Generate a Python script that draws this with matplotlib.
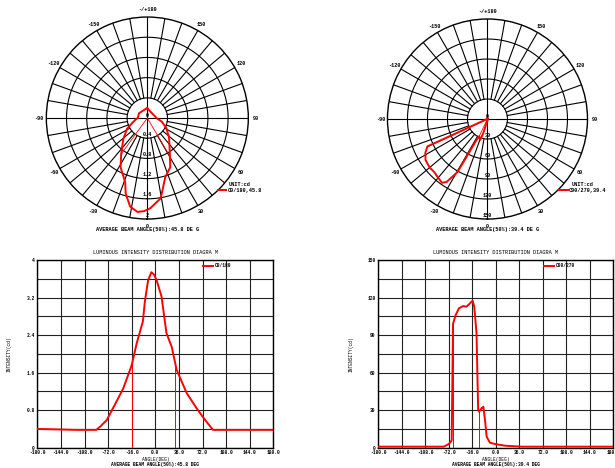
import numpy as np
import matplotlib
matplotlib.use("Agg")
import matplotlib.pyplot as plt

plt.rcParams["font.family"] = ["Liberation Mono", "DejaVu Sans Mono"]
plt.rcParams["font.weight"] = "bold"

# C0/180 plane
C0_ANGLE = [-180, -120, -90, -84, -74, -62, -49, -36, -28.5, -19, -16, -11, -6, -2,
            2, 9.5, 17, 25, 32.5, 48, 63, 76, 88, 180]
C0_INT = [0.40, 0.38, 0.38, 0.45, 0.59, 0.91, 1.26, 1.76, 2.22, 2.69, 3.11, 3.57, 3.74, 3.69,
          3.57, 3.22, 2.44, 2.15, 1.66, 1.16, 0.84, 0.59, 0.38, 0.38]
C0_EDGES = [-36.0, 30.5]

# C90/270 plane
C90_ANGLE = [-180, -80, -72, -69, -67.5, -65.5, -61.5, -56.5, -50, -45, -41, -35.5, -33,
             -29.5, -27, -25.5, -22, -19, -16.5, -14, -9, -1, 14, 40, 180]
C90_INT = [0.8, 0.8, 2.9, 4.8, 6.0, 99, 106, 111.4, 113.2, 112.7, 114.6, 117.5, 112.7,
           91.4, 30.1, 28.8, 31.4, 32.8, 22, 8.8, 4.0, 2.9, 1.6, 0.8, 0.8]
C90_EDGES = [-65.1, -25.7]

POLAR_TICKS = [0, 30, 60, 90, 120, 150, 180, -150, -120, -90, -60, -30]
POLAR_TICK_LABELS = ["0", "30", "60", "90", "120", "150", "-/+180", "-150", "-120", "-90", "-60", "-30"]

LEFT_RINGS = [0.8, 1.6, 2.4, 3.2, 4.0]
LEFT_RING_LABELS = ["0.4", "0.8", "1.2", "1.6", "2"]
RIGHT_RINGS = [30, 60, 90, 120, 150]
RIGHT_RING_LABELS = ["30", "60", "90", "120", "150"]

X_TICKS = [-180, -144, -108, -72, -36, 0, 36, 72, 108, 144, 180]
LEFT_YTICKS = [0, 0.8, 1.6, 2.4, 3.2, 4]
RIGHT_YTICKS = [0, 30, 60, 90, 120, 150]

FS = 3.8
FS_TICK = 3.3


def polar_panel(rect, ang, inten, edges, rings, ring_labels, legend_label, caption, leg_xy):
    ax = fig.add_axes(rect, projection="polar")
    ax.set_theta_zero_location("S")
    ax.set_theta_direction(1)
    rmax = rings[-1]
    ax.set_ylim(0, rmax)
    ax.grid(False)
    ax.set_xticks([])
    ax.set_yticks([])
    ax.spines["polar"].set_linewidth(1.0)
    full = np.linspace(0, 2 * np.pi, 361)
    for r in rings[:-1]:
        ax.plot(full, np.full_like(full, r), color="black", lw=0.8)
    for a in range(0, 360, 10):
        th = np.deg2rad(a)
        r0 = 0 if a % 90 == 0 else rings[0]
        ax.plot([th, th], [r0, rmax], color="black", lw=0.8)
    for a, lab in zip(POLAR_TICKS, POLAR_TICK_LABELS):
        ax.text(np.deg2rad(a), rmax * 1.07, lab, ha="center", va="center",
                fontsize=FS, clip_on=False)
    ax.text(0, 0, "0", ha="center", va="bottom", fontsize=FS)
    for r, lab in zip(rings, ring_labels):
        ax.text(0, r - rmax * 0.015, lab, ha="center", va="bottom", fontsize=FS)
    th = np.deg2rad(ang)
    ax.plot(th, inten, color="red", lw=1.4, label=legend_label)
    for e in edges:
        ax.plot([np.deg2rad(e)] * 2, [0, np.interp(e, ang, inten)], color="red", lw=0.6)
    leg = ax.legend(loc="lower left", bbox_to_anchor=leg_xy, bbox_transform=fig.transFigure,
                    frameon=False, fontsize=FS, title="UNIT:cd", title_fontsize=FS,
                    handlelength=1.6, handletextpad=0.2, borderpad=0, labelspacing=0)
    leg._legend_box.sep = 1
    fig.text(rect[0] + rect[2] / 2, rect[1] - 0.022, caption, ha="center", va="center", fontsize=FS)
    return ax


def cart_panel(rect, ang, inten, edges, yticks, legend_label, caption, leg_x):
    ax = fig.add_axes(rect)
    ax.plot(ang, inten, color="red", lw=1.4, label=legend_label, zorder=3)
    for e in edges:
        ax.plot([e, e], [0, np.interp(e, ang, inten)], color="red", lw=0.7, zorder=3)
    ax.set_xlim(-180, 180)
    ax.set_ylim(0, yticks[-1])
    ax.set_xticks(X_TICKS)
    ax.set_xticklabels([f"{v:.1f}" for v in X_TICKS])
    ax.set_yticks(yticks)
    ax.set_yticks(np.linspace(0, yticks[-1], 11), minor=True)
    ax.set_yticklabels([f"{v:g}" for v in yticks])
    ax.tick_params(axis="both", labelsize=FS_TICK, length=0, pad=2)
    ax.tick_params(which="minor", length=0)
    ax.grid(True, which="both", color="#222222", lw=0.8)
    for s in ax.spines.values():
        s.set_linewidth(1.0)
    ax.set_title("LUMINOUS INTENSITY DISTRIBUTION DIAGRA M", fontsize=FS, pad=4.5)
    ax.set_xlabel("ANGLE(DEG)", fontsize=FS_TICK, labelpad=1)
    ax.set_ylabel("INTENSITY(cd)", fontsize=FS_TICK)
    ax.yaxis.set_label_coords(-0.107, 0.5)
    ax.text(0.5, -0.087, caption, transform=ax.transAxes, ha="center", va="center", fontsize=FS_TICK)
    ax.legend(loc="center left", bbox_to_anchor=(leg_x, 0.97), frameon=False, fontsize=FS_TICK,
              handlelength=2.2, handletextpad=0.3, borderpad=0, borderaxespad=0)
    return ax


fig = plt.figure(figsize=(6.15, 4.68), dpi=100)

polar_panel([0.0753, 0.532, 0.3285, 0.4316], C0_ANGLE, C0_INT, C0_EDGES, LEFT_RINGS, LEFT_RING_LABELS,
            "C0/180,45.8", "AVERAGE BEAM ANGLE(50%):45.8 DE G", (0.350, 0.582))
polar_panel([0.6297, 0.532, 0.3259, 0.4274], C90_ANGLE, C90_INT, C90_EDGES, RIGHT_RINGS, RIGHT_RING_LABELS,
            "C90/270,39.4", "AVERAGE BEAM ANGLE(50%):39.4 DE G", (0.905, 0.582))

cart_panel([0.0607, 0.0434, 0.3837, 0.401], C0_ANGLE, C0_INT, C0_EDGES, LEFT_YTICKS,
           "C0/180", "AVERAGE BEAM ANGLE(50%):45.8 DEG", 0.702)
cart_panel([0.6151, 0.0434, 0.3821, 0.401], C90_ANGLE, C90_INT, C90_EDGES, RIGHT_YTICKS,
           "C90/270", "AVERAGE BEAM ANGLE(50%):39.4 DEG", 0.705)

fig.savefig("out.png", dpi=100)
